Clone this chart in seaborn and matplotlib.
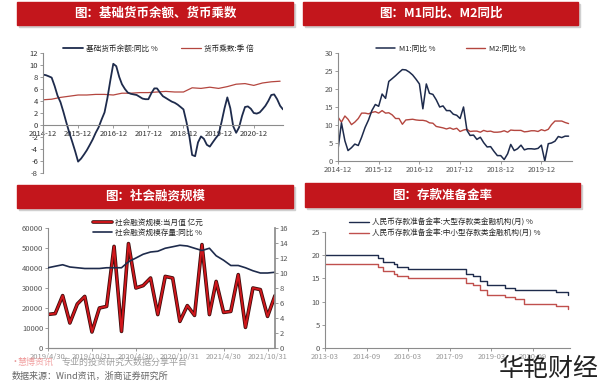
import matplotlib
matplotlib.use('Agg')
import matplotlib.pyplot as plt
import matplotlib.dates as mdates
import matplotlib.patheffects as pe
from matplotlib.patches import Rectangle
import pandas as pd
import seaborn as sns

# ---- data: base money yoy (monthly from 2014-12) and money multiplier (quarterly)
base_money_yoy = [8.4, 8.3, 8.1, 7.9, 6.5, 4.9, 3.8, 2.2, 0.4, -1.3, -2.8, -4.4,
                  -6.1, -5.6, -4.9, -4.2, -3.3, -2.4, -1.3, -0.4, 0.9, 2.1, 4.5, 7.5,
                  10.2, 9.8, 8.0, 6.8, 6.0, 5.4, 5.2, 5.1, 5.0, 4.7, 4.4, 4.3,
                  4.3, 5.3, 6.1, 6.1, 5.4, 4.8, 4.5, 4.2, 3.9, 3.7, 3.4, 3.0,
                  2.6, 0.5, -2.0, -5.0, -5.2, -2.9, -1.9, -2.3, -3.3, -3.6, -2.9, -2.2,
                  -1.6, 0.5, 2.8, 4.6, 2.8, -0.2, -1.3, -0.4, 1.5, 3.0, 3.1, 2.7,
                  2.0, 1.9, 2.1, 2.6, 3.2, 4.0, 5.0, 5.1, 4.3, 3.2, 2.6]
money_multiplier = [4.2, 4.3, 4.6, 4.8, 5.0, 5.0, 5.1, 5.1, 5.0, 5.3, 5.3, 5.4, 5.4, 5.5,
                    5.6, 5.5, 5.5, 6.2, 6.1, 6.3, 6.1, 6.4, 6.8, 6.9, 6.6, 7.0, 7.2, 7.3]
base_ticks = ['2014-12', '2015-12', '2016-12', '2017-12', '2018-12', '2019-12', '2020-12']

# ---- M1 / M2 yoy (monthly from 2014-12)
m1_yoy = [3.2, 10.6, 5.6, 2.9, 3.7, 4.7, 4.3, 6.6, 9.3, 11.4, 14.0, 15.7,
          15.2, 18.6, 17.4, 22.1, 22.9, 23.7, 24.6, 25.4, 25.3, 24.7, 23.9, 22.7,
          21.4, 14.5, 21.4, 18.8, 18.5, 17.0, 15.0, 15.3, 14.0, 14.0, 13.0, 12.7,
          11.8, 15.0, 8.5, 7.1, 7.2, 6.0, 6.6, 5.1, 3.9, 4.0, 2.7, 1.5,
          1.5, 0.4, 2.0, 4.6, 2.9, 3.4, 4.4, 3.1, 3.4, 3.4, 3.3, 3.5,
          4.4, 0.0, 4.8, 5.0, 5.5, 6.8, 6.5, 6.9, 6.9]
m2_yoy = [12.2, 10.8, 12.5, 11.6, 10.1, 10.8, 11.8, 13.3, 13.3, 13.1, 13.5, 13.7,
          13.3, 14.0, 13.3, 13.4, 12.8, 11.8, 11.8, 10.2, 11.4, 11.5, 11.6, 11.4,
          11.3, 11.3, 11.1, 10.6, 10.5, 9.6, 9.4, 9.2, 8.9, 9.2, 8.8, 9.1,
          8.2, 8.6, 8.8, 8.2, 8.3, 8.3, 8.0, 8.5, 8.2, 8.3, 8.0, 8.0,
          8.1, 8.4, 8.0, 8.6, 8.5, 8.5, 8.5, 8.1, 8.2, 8.4, 8.4, 8.2,
          8.7, 8.4, 8.8, 10.1, 11.1, 11.1, 11.1, 10.7, 10.4]
m_ticks = ['2014-12', '2015-12', '2016-12', '2017-12', '2018-12', '2019-12']

# ---- social financing (monthly from 2019-04)
sf_flow = [16800, 17200, 26200, 12500, 22000, 25800, 8000, 20000, 20800, 50800,
           8300, 52200, 30000, 31200, 35000, 16700, 35800, 35000, 13300, 21200,
           16300, 51700, 16700, 33300, 17800, 18300, 36700, 10300, 30000, 29200,
           15800, 26200]
sf_stock_yoy = [10.7, 10.9, 11.1, 10.8, 10.7, 10.6, 10.6, 10.6, 10.7, 10.7,
                10.7, 11.5, 12.0, 12.5, 12.8, 12.9, 13.3, 13.5, 13.7, 13.6,
                13.3, 13.0, 13.3, 12.3, 11.7, 11.0, 11.0, 10.7, 10.3, 10.0,
                10.0, 10.1]
sf_tick_dates = ['2019-04', '2019-10', '2020-04', '2020-10', '2021-04', '2021-10']
sf_tick_labels = ['2019/4/30', '2019/10/31', '2020/4/30', '2020/10/31', '2021/4/30', '2021/10/31']

# ---- reserve requirement ratio (change dates)
rrr_large_dates = ['2013-03', '2015-02', '2015-04', '2015-09', '2015-10', '2016-03', '2018-04',
                   '2018-07', '2018-10', '2019-01', '2019-09', '2020-01', '2021-07', '2021-12']
rrr_large = [20.0, 19.5, 18.5, 18.0, 17.5, 17.0, 16.0, 15.5, 14.5, 13.5, 13.0, 12.5, 12.0, 11.5]
rrr_small_dates = ['2013-03', '2015-02', '2015-04', '2015-09', '2015-10', '2016-03', '2018-04',
                   '2018-07', '2018-10', '2019-01', '2019-09', '2020-01', '2020-05', '2021-07', '2021-12']
rrr_small = [18.0, 17.5, 16.5, 16.0, 15.5, 15.0, 14.0, 13.5, 12.5, 11.5, 11.0, 10.5, 9.5, 9.0, 8.5]
rrr_ticks = ['2013-03', '2014-09', '2016-03', '2017-09', '2019-03', '2020-09']

NAVY = '#1e2b4c'
RED = '#b4463f'

sns.set_theme(style='ticks')
plt.rcParams['font.family'] = ['Noto Sans CJK SC', 'DejaVu Sans']
plt.rcParams['axes.unicode_minus'] = False

W, H = 600, 389
fig = plt.figure(figsize=(6, 3.89), dpi=100)
fig.patch.set_facecolor('white')


def px(x0, y0, x1, y1):
    return [x0 / W, 1 - y1 / H, (x1 - x0) / W, (y1 - y0) / H]


def banner(x0, y0, x1, y1, text):
    fig.add_artist(Rectangle(((x0 + 2) / W, 1 - (y1 + 2) / H), (x1 - x0) / W, (y1 - y0) / H,
                             transform=fig.transFigure, color='#d0d0d0', zorder=0))
    fig.add_artist(Rectangle((x0 / W, 1 - y1 / H), (x1 - x0) / W, (y1 - y0) / H,
                             transform=fig.transFigure, color='#c3161c', zorder=1))
    fig.text((x0 + x1) / 2 / W, 1 - (y0 + y1) / 2 / H, text, color='white', fontsize=9,
             fontweight='bold', ha='center', va='center', zorder=2)


def style(ax, labelcolor='#333333'):
    for s in ['top', 'right']:
        ax.spines[s].set_visible(False)
    for s in ['left', 'bottom']:
        ax.spines[s].set_color('#8c8c8c')
        ax.spines[s].set_linewidth(0.8)
    ax.tick_params(labelsize=5.5, colors='#8c8c8c', labelcolor=labelcolor, length=2,
                   width=0.6, pad=1.5)
    ax.set_xlabel('')
    ax.set_ylabel('')
    ax.grid(False)


leg_kw = dict(frameon=False, fontsize=5.5, handlelength=2.6, handletextpad=0.4,
              labelspacing=0.3, borderpad=0)

# ---------------- top-left
banner(17, 2, 293, 25, '图：基础货币余额、货币乘数')
ax1 = fig.add_axes(px(43, 53, 283, 173))
d_base = pd.date_range('2014-12-01', periods=len(base_money_yoy), freq='MS')
d_mult = pd.date_range('2014-12-01', periods=len(money_multiplier), freq='3MS')
sns.lineplot(x=d_mult, y=money_multiplier, ax=ax1, color=RED, lw=0.9, label='货币乘数:季 倍')
sns.lineplot(x=d_base, y=base_money_yoy, ax=ax1, color=NAVY, lw=1.3, label='基础货币余额:同比 %')
style(ax1)
ax1.set_ylim(-8, 12)
ax1.set_yticks(range(-8, 13, 2))
ax1.set_xlim(d_base[0], d_base[-1])
ax1.spines['bottom'].set_position(('data', 0))
ax1.set_xticks(pd.to_datetime(base_ticks))
ax1.xaxis.set_major_formatter(mdates.DateFormatter('%Y-%m'))
h, l = ax1.get_legend_handles_labels()
ax1.legend(h[::-1], l[::-1], loc='center', bbox_to_anchor=(0.48, 1 + 4 / 120), ncol=2,
           columnspacing=3, **leg_kw)

# ---------------- top-right
banner(303, 2, 578, 25, '图：M1同比、M2同比')
ax2 = fig.add_axes(px(338, 53, 572, 161))
d_m1 = pd.date_range('2014-12-01', periods=len(m1_yoy), freq='MS')
d_m2 = pd.date_range('2014-12-01', periods=len(m2_yoy), freq='MS')
sns.lineplot(x=d_m2, y=m2_yoy, ax=ax2, color=RED, lw=1.0, label='M2:同比 %')
sns.lineplot(x=d_m1, y=m1_yoy, ax=ax2, color=NAVY, lw=1.1, label='M1:同比 %')
style(ax2, '#555555')
ax2.set_ylim(0, 30)
ax2.set_yticks(range(0, 31, 5))
ax2.set_xlim(d_m1[0], pd.Timestamp('2020-09-01'))
ax2.set_xticks(pd.to_datetime(m_ticks))
ax2.xaxis.set_major_formatter(mdates.DateFormatter('%Y-%m'))
h, l = ax2.get_legend_handles_labels()
ax2.legend(h[::-1], l[::-1], loc='center', bbox_to_anchor=(0.48, 1 + 4 / 108), ncol=2,
           columnspacing=4, **leg_kw)

# ---------------- bottom-left
banner(17, 185, 293, 208, '图：社会融资规模')
ax3 = fig.add_axes(px(48, 228, 275, 348))
ax3r = ax3.twinx()
d_sf = pd.date_range('2019-04-01', periods=len(sf_flow), freq='MS')
sns.lineplot(x=d_sf, y=sf_flow, ax=ax3, color='#d0161b', lw=1.4,
             path_effects=[pe.Stroke(linewidth=2.6, foreground='#3d0c0c'), pe.Normal()],
             label='社会融资规模:当月值 亿元')
sns.lineplot(x=d_sf, y=sf_stock_yoy, ax=ax3r, color=NAVY, lw=1.2, label='社会融资规模存量:同比 %')
style(ax3, '#555555')
style(ax3r, '#555555')
ax3r.spines['left'].set_visible(False)
ax3r.spines['right'].set_visible(True)
ax3r.spines['right'].set_color('#8c8c8c')
ax3.set_ylim(0, 60000)
ax3.set_yticks(range(0, 60001, 10000))
ax3r.set_ylim(0, 16)
ax3r.set_yticks(range(0, 17, 2))
ax3.set_xlim(d_sf[0], d_sf[-1])
ax3.set_xticks(pd.to_datetime(sf_tick_dates))
ax3.set_xticklabels(sf_tick_labels)
ax3.tick_params(axis='x', labelcolor='#999999')
h1, l1 = ax3.get_legend_handles_labels()
h2, l2 = ax3r.get_legend_handles_labels()
if ax3.get_legend() is not None:
    ax3.get_legend().remove()
ax3r.legend(h1 + h2, l1 + l2, loc='center', bbox_to_anchor=(0.44, 1.0), ncol=1, **leg_kw)

# ---------------- bottom-right
banner(305, 183, 580, 207, '图：存款准备金率')
ax4 = fig.add_axes(px(325, 232, 570, 348))
sns.lineplot(x=pd.to_datetime(rrr_large_dates), y=rrr_large, ax=ax4, color=NAVY, lw=1.0,
             drawstyle='steps-post', label='人民币存款准备金率:大型存款类金融机构(月) %')
sns.lineplot(x=pd.to_datetime(rrr_small_dates), y=rrr_small, ax=ax4, color='#c0504d', lw=1.0,
             drawstyle='steps-post', label='人民币存款准备金率:中小型存款类金融机构(月) %')
style(ax4, '#555555')
ax4.set_ylim(0, 25)
ax4.set_yticks(range(0, 26, 5))
ax4.set_xlim(pd.Timestamp('2013-03-01'), pd.Timestamp('2022-01-01'))
ax4.set_xticks(pd.to_datetime(rrr_ticks))
ax4.xaxis.set_major_formatter(mdates.DateFormatter('%Y-%m'))
ax4.tick_params(axis='x', labelcolor='#999999')
ax4.legend(loc='center', bbox_to_anchor=(0.49, 1 + 4 / 116), ncol=1, **leg_kw)

# ---------------- footer texts
fig.text(10 / W, 1 - 362 / H, '•', color='#e07a7a', fontsize=6.5, va='center', alpha=0.8)
fig.text(17 / W, 1 - 362 / H, '慧博资讯', color='#ee8a8a', fontsize=6.5, va='center', alpha=0.8)
fig.text(62 / W, 1 - 362 / H, '专业的投资研究大数据分享平台', color='#888888', fontsize=6.5,
         va='center', alpha=0.8)
fig.text(12 / W, 1 - 376 / H, '数据来源：Wind资讯，浙商证券研究所', color='#666666', fontsize=6.5,
         va='center')
fig.text(0.998, 1 - 369 / H, '华艳财经', color='#222222', fontsize=18, fontweight='light',
         ha='right', va='center')

fig.savefig('out.png', dpi=100, facecolor='white')
